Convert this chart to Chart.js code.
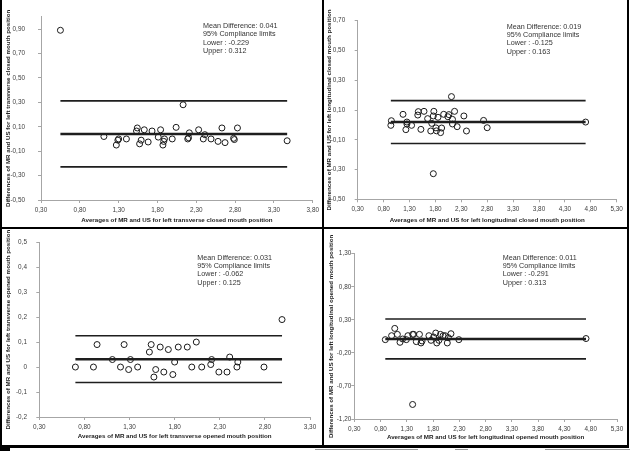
<!DOCTYPE html>
<html>
<head>
<meta charset="utf-8">
<script src="https://cdn.jsdelivr.net/npm/chart.js@4.4.1/dist/chart.umd.min.js"></script>
<style>
    html, body { margin: 0; padding: 0; background: #fff; }
    #page { position: relative; width: 630px; height: 452px; overflow: hidden; background: #fff; }
    .panel { position: absolute; }
    .rule { position: absolute; background: #000; }
    .rule.grey { background: #9a9a9a; }
</style>
</head>
<body>
<div id="page">
    <div class="panel" style="left:0;top:0;"><canvas id="tc" width="322" height="227"></canvas></div>
    <div class="panel" style="left:323px;top:0;"><canvas id="lc" width="305" height="227"></canvas></div>
    <div class="panel" style="left:0;top:229px;"><canvas id="to" width="322" height="217"></canvas></div>
    <div class="panel" style="left:323px;top:229px;"><canvas id="lo" width="305" height="217"></canvas></div>

    <div class="rule" style="left:0;top:0;width:2px;height:447px;"></div>
    <div class="rule" style="left:322px;top:0;width:2px;height:447px;"></div>
    <div class="rule" style="left:627px;top:0;width:2px;height:447px;"></div>
    <div class="rule" style="left:0;top:227px;width:629px;height:2px;"></div>
    <div class="rule" style="left:0;top:445px;width:629px;height:3px;"></div>
    <div class="rule" style="left:0;top:446px;width:10px;height:5px;"></div>
    <div class="rule grey" style="left:315px;top:449px;width:103px;height:1px;"></div>
    <div class="rule grey" style="left:455px;top:449px;width:13px;height:1px;"></div>
    <div class="rule grey" style="left:545px;top:449px;width:85px;height:1px;"></div>
</div>
<script>
// left transverse, closed mouth
var tcAvg  = [0.55, 1.11, 1.27, 1.29, 1.30, 1.40, 1.53, 1.54, 1.57, 1.59, 1.63, 1.68, 1.73, 1.81, 1.84, 1.87, 1.88, 1.89, 1.99, 2.04, 2.13, 2.19, 2.20, 2.21, 2.33, 2.39, 2.41, 2.49, 2.58, 2.63, 2.67, 2.78, 2.79, 2.83, 3.47];
var tcDiff = [0.89, 0.02, -0.05, -0.01, 0.00, 0.00, 0.065, 0.09, -0.04, -0.01, 0.075, -0.025, 0.065, 0.015, 0.075, -0.05, -0.02, 0.00, 0.00, 0.095, 0.28, 0.00, 0.01, 0.05, 0.075, 0.00, 0.035, 0.00, -0.02, 0.09, -0.03, 0.005, -0.005, 0.09, -0.015];

// left longitudinal, closed mouth
var lcAvg  = [0.94, 0.95, 1.175, 1.23, 1.25, 1.25, 1.34, 1.46, 1.47, 1.52, 1.58, 1.65, 1.71, 1.73, 1.76, 1.76, 1.77, 1.81, 1.82, 1.85, 1.90, 1.92, 1.96, 2.04, 2.06, 2.11, 2.13, 2.13, 2.17, 2.22, 2.35, 2.40, 2.73, 2.80, 4.70];
var lcDiff = [-0.003, 0.028, 0.071, -0.032, 0.019, 0.006, -0.003, 0.066, 0.089, -0.03, 0.091, 0.042, -0.041, 0.01, 0.06, -0.328, 0.091, -0.02, -0.04, 0.051, -0.052, -0.021, 0.071, 0.055, 0.069, 0.19, 0.037, 0.006, 0.091, -0.012, 0.06, -0.041, 0.03, -0.019, 0.019];

// left transverse, opened mouth
var toAvg  = [0.70, 0.90, 0.94, 1.11, 1.20, 1.24, 1.29, 1.31, 1.39, 1.52, 1.54, 1.57, 1.59, 1.64, 1.68, 1.73, 1.78, 1.80, 1.84, 1.94, 1.99, 2.04, 2.10, 2.20, 2.21, 2.29, 2.38, 2.41, 2.49, 2.50, 2.79, 2.99];
var toDiff = [0, 0, 0.09, 0.03, 0, 0.09, -0.01, 0.03, 0, 0.06, 0.09, -0.04, -0.01, 0.08, -0.02, 0.07, -0.03, 0.02, 0.08, 0.08, 0, 0.10, 0, 0.01, 0.03, -0.02, -0.02, 0.04, 0, 0.02, 0, 0.19];

// left longitudinal, opened mouth
var loAvg  = [0.89, 1.01, 1.07, 1.12, 1.17, 1.22, 1.29, 1.32, 1.41, 1.41, 1.43, 1.48, 1.54, 1.57, 1.59, 1.72, 1.76, 1.81, 1.85, 1.87, 1.91, 1.94, 1.99, 2.03, 2.07, 2.09, 2.14, 2.29, 4.71];
var loDiff = [0, 0.06, 0.17, 0.08, -0.04, 0.01, 0, 0.06, 0.08, -0.98, 0.08, -0.03, 0.08, -0.05, -0.02, 0.06, -0.01, 0.04, 0.10, -0.05, -0.01, 0.08, 0.06, 0.06, -0.05, 0.03, 0.09, 0, 0.017];

// mean difference and 95% limits, order: tc, lc, to, lo
var meanDiff = [0.041, 0.019, 0.031, 0.011];
var lowerLim = [-0.229, -0.125, -0.062, -0.291];
var upperLim = [0.312, 0.163, 0.125, 0.313];

// axis ticks
var xTicksShort = [0.3, 0.8, 1.3, 1.8, 2.3, 2.8, 3.3, 3.8];
var xLabelsShort = ['0,30', '0,80', '1,30', '1,80', '2,30', '2,80', '3,30', '3,80'];
var xTicksLong = [0.3, 0.8, 1.3, 1.8, 2.3, 2.8, 3.3, 3.8, 4.3, 4.8, 5.3];
var xLabelsLong = ['0,30', '0,80', '1,30', '1,80', '2,30', '2,80', '3,30', '3,80', '4,30', '4,80', '5,30'];
var xTicksTo = [0.3, 0.8, 1.3, 1.8, 2.3, 2.8, 3.3];
var xLabelsTo = ['0,30', '0,80', '1,30', '1,80', '2,30', '2,80', '3,30'];

var yTicksTc = [-0.5, -0.3, -0.1, 0.1, 0.3, 0.5, 0.7, 0.9];
var yLabelsTc = ['-0,50', '-0,30', '-0,10', '0,10', '0,30', '0,50', '0,70', '0,90'];
var yTicksLc = [-0.5, -0.3, -0.1, 0.1, 0.3, 0.5, 0.7];
var yLabelsLc = ['-0,50', '-0,30', '-0,10', '0,10', '0,30', '0,50', '0,70'];
var yTicksTo = [-0.2, -0.1, 0, 0.1, 0.2, 0.3, 0.4, 0.5];
var yLabelsTo = ['-0,2', '-0,1', '0', '0,1', '0,2', '0,3', '0,4', '0,5'];
var yTicksLo = [-1.2, -0.7, -0.2, 0.3, 0.8, 1.3];
var yLabelsLo = ['-1,20', '-0,70', '-0,20', '0,30', '0,80', '1,30'];

(function () {
    var family = "'Liberation Sans Narrow', 'Arial Narrow', 'Liberation Sans', Arial, sans-serif";
    var axisGrey = '#a6a6a6';

    var statsText = {
        id: 'statsText',
        afterDraw: function (chart, args, opts) {
            if (!opts || !opts.lines) {
                return;
            }
            var ctx = chart.ctx;
            ctx.save();
            ctx.font = '7.2px ' + family;
            ctx.fillStyle = '#333';
            ctx.textBaseline = 'middle';
            ctx.textAlign = 'left';
            opts.lines.forEach(function (t, i) {
                ctx.fillText(t, opts.x, opts.y + i * opts.step);
            });
            ctx.restore();
        }
    };

    function hline(v, x0, x1, w) {
        return {
            data: [{ x: x0, y: v }, { x: x1, y: v }],
            showLine: true,
            borderColor: '#1e1e1e',
            borderWidth: w,
            pointRadius: 0,
            fill: false
        };
    }

    function makePanel(id, p) {
        var k = p.idx;
        var points = p.avg.map(function (x, i) { return { x: x, y: p.diff[i] }; });
        var x0 = Math.min.apply(null, p.avg);
        var x1 = Math.max.apply(null, p.avg);

        new Chart(document.getElementById(id), {
            type: 'scatter',
            data: {
                datasets: [
                    hline(upperLim[k], x0, x1, 1.6),
                    hline(meanDiff[k], x0, x1, 2.6),
                    hline(lowerLim[k], x0, x1, 1.6),
                    {
                        data: points,
                        pointRadius: 3,
                        pointHoverRadius: 3,
                        borderColor: '#1a1a1a',
                        backgroundColor: 'rgba(0,0,0,0)',
                        borderWidth: 1
                    }
                ]
            },
            options: {
                responsive: false,
                animation: false,
                events: [],
                layout: { padding: p.pad },
                plugins: {
                    legend: { display: false },
                    tooltip: { enabled: false },
                    statsText: {
                        x: p.textX,
                        y: p.textY,
                        step: 8.4,
                        lines: [
                            'Mean Difference: ' + meanDiff[k].toFixed(3),
                            '95% Compliance limits',
                            'Lower : ' + lowerLim[k].toFixed(3),
                            'Upper : ' + upperLim[k].toFixed(3)
                        ]
                    }
                },
                scales: {
                    x: {
                        type: 'linear',
                        min: p.xTicks[0],
                        max: p.xTicks[p.xTicks.length - 1],
                        afterBuildTicks: function (s) {
                            s.ticks = p.xTicks.map(function (v) { return { value: v }; });
                        },
                        afterFit: function (s) { s.height = p.xH; },
                        grid: { drawOnChartArea: false, tickLength: 3, color: axisGrey },
                        border: { color: axisGrey, width: 1 },
                        ticks: {
                            padding: 3,
                            autoSkip: false,
                            maxRotation: 0,
                            color: '#404040',
                            font: { family: family, size: 6.4 },
                            callback: function (v, i) { return p.xLabels[i]; }
                        },
                        title: {
                            display: true,
                            text: p.xTitle,
                            color: '#222',
                            font: { family: family, size: 6.2, weight: 'bold' },
                            padding: { top: 0, bottom: p.xTitlePad }
                        }
                    },
                    y: {
                        type: 'linear',
                        min: p.yMin,
                        max: p.yMax,
                        afterBuildTicks: function (s) {
                            s.ticks = p.yTicks.map(function (v) { return { value: v }; });
                        },
                        afterFit: function (s) { s.width = p.yW; },
                        grid: { drawOnChartArea: false, tickLength: 3, color: axisGrey },
                        border: { color: axisGrey, width: 1 },
                        ticks: {
                            padding: p.yTickPad,
                            autoSkip: false,
                            color: '#404040',
                            font: { family: family, size: 6.4 },
                            callback: function (v, i) { return p.yLabels[i]; }
                        },
                        title: {
                            display: true,
                            text: p.yTitle,
                            color: '#222',
                            font: { family: family, size: 6.2, weight: 'bold' },
                            padding: { top: p.yTitlePad, bottom: 0 }
                        }
                    }
                }
            },
            plugins: [statsText]
        });
    }

    makePanel('tc', {
        idx: 0, avg: tcAvg, diff: tcDiff,
        xTicks: xTicksShort, xLabels: xLabelsShort,
        yTicks: yTicksTc, yLabels: yLabelsTc, yMin: -0.5, yMax: 1.0,
        xTitle: 'Averages of MR and US for left transverse closed mouth position',
        yTitle: 'Differences of MR and US for left transverse closed mouth position',
        pad: { left: 0, top: 16.5, right: 9, bottom: 0 },
        yW: 41, xH: 27, yTickPad: 13, yTitlePad: 4.3, xTitlePad: 3.3,
        textX: 203, textY: 26
    });

    makePanel('lc', {
        idx: 1, avg: lcAvg, diff: lcDiff,
        xTicks: xTicksLong, xLabels: xLabelsLong,
        yTicks: yTicksLc, yLabels: yLabelsLc, yMin: -0.5, yMax: 0.7,
        xTitle: 'Averages of MR and US for left longitudinal closed mouth position',
        yTitle: 'Differences of MR and US for left longitudinal closed mouth position',
        pad: { left: 0, top: 20.7, right: 11.3, bottom: 0 },
        yW: 34.7, xH: 27.7, yTickPad: 9.5, yTitlePad: 3, xTitlePad: 3.3,
        textX: 183.7, textY: 26.7
    });

    makePanel('to', {
        idx: 2, avg: toAvg, diff: toDiff,
        xTicks: xTicksTo, xLabels: xLabelsTo,
        yTicks: yTicksTo, yLabels: yLabelsTo, yMin: -0.2, yMax: 0.5,
        xTitle: 'Averages of MR and US for left transverse opened mouth position',
        yTitle: 'Differences of MR and US for left transverse opened mouth position',
        pad: { left: 0, top: 11.3, right: 12, bottom: 0 },
        yW: 39.3, xH: 29, yTickPad: 9.3, yTitlePad: 4.3, xTitlePad: 6.3,
        textX: 197.3, textY: 28.7
    });

    makePanel('lo', {
        idx: 3, avg: loAvg, diff: loDiff,
        xTicks: xTicksLong, xLabels: xLabelsLong,
        yTicks: yTicksLo, yLabels: yLabelsLo, yMin: -1.2, yMax: 1.3,
        xTitle: 'Averages of MR and US for left longitudinal opened mouth position',
        yTitle: 'Differences of MR and US for left longitudinal opened mouth position',
        pad: { left: 0, top: 24.7, right: 11, bottom: 0 },
        yW: 31.3, xH: 27, yTickPad: 0, yTitlePad: 5, xTitlePad: 5.3,
        textX: 179.7, textY: 28.7
    });
})();
</script>
</body>
</html>
